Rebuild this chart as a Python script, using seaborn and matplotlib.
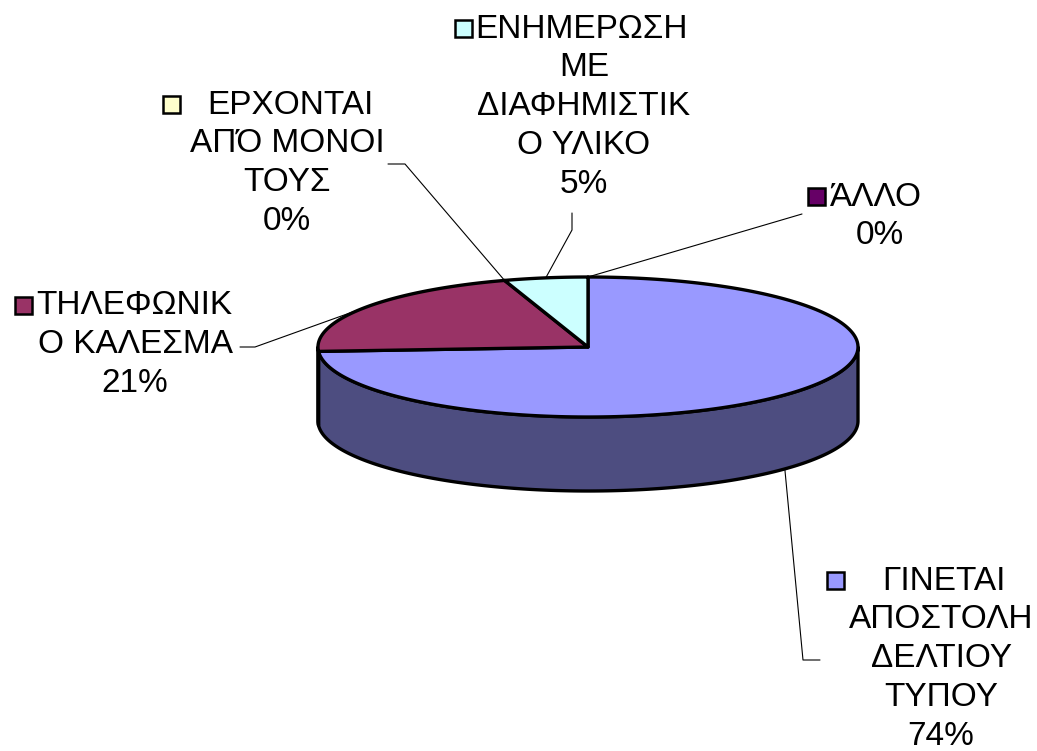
import numpy as np
import matplotlib
matplotlib.use("Agg")
import matplotlib.pyplot as plt
from matplotlib.patches import Polygon, Rectangle
import seaborn as sns

# data
categories = ["ΓΙΝΕΤΑΙ ΑΠΟΣΤΟΛΗ ΔΕΛΤΙΟΥ ΤΥΠΟΥ", "ΤΗΛΕΦΩΝΙΚΟ ΚΑΛΕΣΜΑ",
              "ΕΡΧΟΝΤΑΙ ΑΠΌ ΜΟΝΟΙ ΤΟΥΣ", "ΕΝΗΜΕΡΩΣΗ ΜΕ ΔΙΑΦΗΜΙΣΤΙΚΟ ΥΛΙΚΟ", "ΆΛΛΟ"]
label_lines = [["ΓΙΝΕΤΑΙ", "ΑΠΟΣΤΟΛΗ", "ΔΕΛΤΙΟΥ", "ΤΥΠΟΥ"],
               ["ΤΗΛΕΦΩΝΙΚ", "Ο ΚΑΛΕΣΜΑ"],
               ["ΕΡΧΟΝΤΑΙ", "ΑΠΌ ΜΟΝΟΙ", "ΤΟΥΣ"],
               ["ΕΝΗΜΕΡΩΣΗ", "ΜΕ", "ΔΙΑΦΗΜΙΣΤΙΚ", "Ο ΥΛΙΚΟ"],
               ["ΆΛΛΟ"]]
values = [74, 21, 0, 5, 0]
colors = ["#9999FF", "#993366", "#FFFFCC", "#CCFFFF", "#660066"]

sns.set_theme(style="white")
plt.rcParams['font.family'] = ['Liberation Sans', 'DejaVu Sans']

fig = plt.figure(figsize=(10.37, 7.51), dpi=100)
ax = fig.add_axes([0, 0, 1, 1])
ax.set_xlim(0, 1037)
ax.set_ylim(751, 0)
ax.axis('off')

# pie geometry (pixels)
cx, cy, a, b, depth = 588, 347, 270, 70, 74

def rim(t0, t1, dy=0, n=200):
    t = np.radians(np.linspace(t0, t1, n))
    return np.column_stack([cx + a*np.sin(t), cy - b*np.cos(t) + dy])

total = sum(values)
bounds = np.concatenate([[0], np.cumsum(values) / total * 360])

# side walls (front half only)
for i, v in enumerate(values):
    s, e = max(bounds[i], 90), min(bounds[i+1], 270)
    if v == 0 or e <= s:
        continue
    top = rim(s, e)
    bot = rim(e, s, dy=depth)
    dark = tuple(c*0.5 for c in matplotlib.colors.to_rgb(colors[i]))
    ax.add_patch(Polygon(np.vstack([top, bot]), closed=True, facecolor=dark,
                         edgecolor='black', lw=2.4, joinstyle='round'))

# top faces
for i, v in enumerate(values):
    if v == 0:
        continue
    pts = np.vstack([[cx, cy], rim(bounds[i], bounds[i+1])])
    ax.add_patch(Polygon(pts, closed=True, facecolor=colors[i],
                         edgecolor='black', lw=2.4, joinstyle='round'))

# leader lines: (elbow, end) layout per slice
leaders = [[(803, 660), (820, 660)],
           [(255, 347), (240, 347)],
           [(405, 164), (388, 164)],
           [(572, 230), (572, 213)],
           [(802, 214), (802, 214)]]
for i, v in enumerate(values):
    mid = (bounds[i] + bounds[i+1]) / 2
    t = np.radians(mid)
    x0 = cx + a*np.sin(t)
    y0 = cy - b*np.cos(t)
    if 90 < mid < 270:
        y0 += depth
    xs = [x0] + [p[0] for p in leaders[i]]
    ys = [y0] + [p[1] for p in leaders[i]]
    ax.plot(xs, ys, color='black', lw=0.8)

# labels: block center x, first line text center x, key left x, first line y
label_layout = [(941, 944, 827, 581),
                (135, 134, 15, 306),
                (287, 290, 163, 105),
                (584, 581, 455, 29),
                (880, 876, 808, 197)]
step = 38.8
for i, v in enumerate(values):
    bx, fx, kx, y0 = label_layout[i]
    pct = "{0}%".format(int(round(v / total * 100)))
    lines = label_lines[i] + [pct]
    for j, txt in enumerate(lines):
        x = fx if j == 0 else bx
        ax.text(x, y0 + j*step, txt, fontsize=24, ha='center', va='center',
                color='black')
    ax.add_patch(Rectangle((kx, y0 - 9), 17, 17, facecolor=colors[i],
                           edgecolor='black', lw=1.8))

fig.savefig("out.png", dpi=100)
